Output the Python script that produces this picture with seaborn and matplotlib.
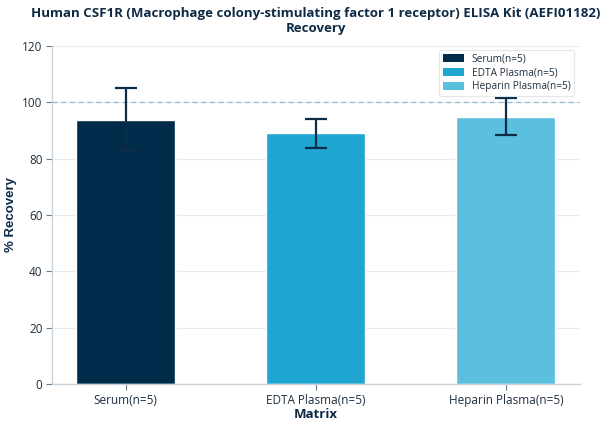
import matplotlib
matplotlib.use("Agg")
import matplotlib.pyplot as plt
import seaborn as sns
import pandas as pd
from matplotlib.patches import Patch

categories = ["Serum(n=5)", "EDTA Plasma(n=5)", "Heparin Plasma(n=5)"]
recovery = [93.8, 88.9, 94.8]
errors = [11.3, 5.1, 6.5]
colors = ["#002b4a", "#1fa6d3", "#5bbfe0"]

sns.set_theme(style="white")
plt.rcParams['font.family'] = ['Open Sans', 'DejaVu Sans']

df = pd.DataFrame({"Matrix": categories, "Recovery": recovery})

fig, ax = plt.subplots(figsize=(6.08, 4.28), dpi=100)
fig.subplots_adjust(left=0.086, right=0.954, top=0.893, bottom=0.103)

sns.barplot(data=df, x="Matrix", y="Recovery", hue="Matrix", palette=colors,
            width=0.52, ax=ax, legend=False, dodge=False, saturation=1)
ax.errorbar(range(len(categories)), recovery, yerr=errors, fmt="none",
            ecolor="#0d2c47", elinewidth=1.6, capsize=8, capthick=1.6, zorder=5)

ax.axhline(100, color="#8fbccc", linestyle=(0, (4, 3)), linewidth=0.9, zorder=1)

handles = [Patch(facecolor=c, edgecolor="none", label=l) for c, l in zip(colors, categories)]
leg = ax.legend(handles=handles, loc="upper right", fontsize=7.3, frameon=True,
                bbox_to_anchor=(0.989, 0.988), borderaxespad=0.0,
                handlelength=2.1, handleheight=0.85,
                borderpad=0.35, labelspacing=0.28, handletextpad=0.8)
leg.get_frame().set_edgecolor("#dde3e8")
leg.get_frame().set_linewidth(0.8)
leg.set_zorder(10)
for t in leg.get_texts():
    t.set_color("#1f2f3f")

ax.set_ylim(0, 120)
ax.set_xlim(-0.385, 2.39)
ax.set_yticks([0, 20, 40, 60, 80, 100, 120])
ax.yaxis.grid(True, color="#e6ebef", linewidth=0.8)
ax.set_axisbelow(True)

for s in ["top", "right"]:
    ax.spines[s].set_visible(False)
for s in ["left", "bottom"]:
    ax.spines[s].set_color("#c8d2da")
    ax.spines[s].set_linewidth(1.0)

ax.tick_params(axis="both", which="both", length=4, width=0.8, color="#6b7a88",
               labelsize=8.5, labelcolor="#1f2f3f", left=True, bottom=True, pad=3)

ax.set_xlabel("Matrix", fontsize=9.5, fontweight="bold", color="#0e2a45", labelpad=1)
ax.set_ylabel("% Recovery", fontsize=9.5, fontweight="bold", color="#0e2a45",
              family=["Liberation Sans", "DejaVu Sans"], labelpad=4)
ax.set_title("Human CSF1R (Macrophage colony-stimulating factor 1 receptor) ELISA Kit (AEFI01182)\nRecovery",
             fontsize=9.5, fontweight="bold", color="#0e2a45", pad=10, linespacing=1.2)

fig.savefig("out.png", dpi=100)
